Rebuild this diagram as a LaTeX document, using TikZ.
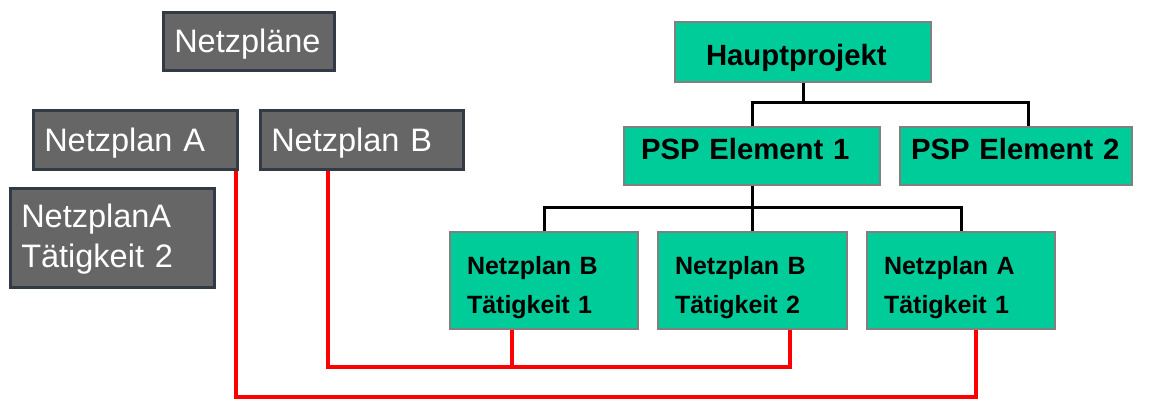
\documentclass[tikz,border=0pt]{standalone}
\usepackage{fontspec}
\setmainfont{Liberation Sans}
\usetikzlibrary{calc}
\definecolor{grayfill}{HTML}{666666}
\definecolor{grayborder}{HTML}{323A46}
\definecolor{greenfill}{HTML}{00CC99}
\definecolor{greenborder}{HTML}{808080}
\definecolor{linkred}{HTML}{FF0000}
\begin{document}
\begin{tikzpicture}[x=1pt,y=-1pt,
  graybox/.style={draw=grayborder, line width=2.5pt, fill=grayfill, text=white,
    font=\fontsize{32.5}{40}\selectfont, anchor=north west, inner ysep=0pt,
    inner xsep=11pt, align=left, text height=23.3pt, text depth=0pt},
  greenbox/.style={draw=greenborder, line width=2pt, fill=greenfill, text=black,
    anchor=north west, inner ysep=0pt, inner xsep=17pt, align=left},
  bigbold/.style={font=\bfseries\fontsize{29.3}{36}\selectfont},
  smallbold/.style={font=\bfseries\fontsize{25}{39}\selectfont, text height=27.9pt, text depth=39pt},
  tree/.style={draw=black, line width=3pt},
  redlink/.style={draw=linkred, line width=4pt}]
\useasboundingbox (0,0) rectangle (1153,399);

% left: network plans
\node[graybox, minimum width=171pt, text width=149pt, minimum height=58pt] (netzplaene) at (162,11) {Netzpläne};
\node[graybox, minimum width=204pt, text width=182pt, minimum height=59pt] (npa) at (32,109) {Netzplan A};
\node[graybox, minimum width=203pt, text width=181pt, minimum height=59pt] (npb) at (259,109) {Netzplan B};
\node[graybox, minimum width=204pt, text width=182pt, minimum height=99pt, text depth=43pt] (npa2) at (9,187) {NetzplanA\\Tätigkeit 2};

% right: work breakdown structure
\node[greenbox, bigbold, minimum width=256pt, text width=194pt, inner xsep=31pt, minimum height=60pt,
  text height=26pt, text depth=0pt] (haupt) at (674,21) {Hauptprojekt};
\node[greenbox, bigbold, minimum width=256pt, text width=222pt, minimum height=58pt,
  text height=21pt, text depth=14pt] (psp1) at (623,126) {PSP Element 1};
\node[greenbox, bigbold, minimum width=232pt, text width=210pt, inner xsep=11pt, minimum height=58pt,
  text height=21pt, text depth=14pt] (psp2) at (899,126) {PSP Element 2};
\node[greenbox, smallbold, minimum width=188pt, text width=154pt, minimum height=97pt] (nb1) at (449,231) {Netzplan B\\Tätigkeit 1};
\node[greenbox, smallbold, minimum width=189pt, text width=155pt, minimum height=97pt] (nb2) at (657,231) {Netzplan B\\Tätigkeit 2};
\node[greenbox, smallbold, minimum width=188pt, text width=154pt, minimum height=97pt] (na1) at (866,231) {Netzplan A\\Tätigkeit 1};

% tree connectors
\coordinate (bus1) at (0,102);
\coordinate (bus2) at (0,207);
\coordinate (p2top) at ([xshift=12pt]psp2.north);
\draw[tree] (haupt.south) -- (haupt.south |- bus1);
\draw[tree] (psp1.north) |- (p2top |- bus1) -- (p2top);
\draw[tree] (psp1.south) -- (psp1.south |- nb2.north);
\draw[tree] (nb1.north) |- (na1.north |- bus2) -- (na1.north);

% red links
\coordinate (rlow) at (0,397);
\coordinate (rmid) at (0,367);
\coordinate (ra) at ([xshift=-3pt]npa.south east);
\coordinate (ra1) at ([xshift=15pt]na1.south);
\coordinate (rb) at ([xshift=-33.5pt]npb.south);
\coordinate (rb1) at ([xshift=-32pt]nb1.south);
\coordinate (rb2) at ([xshift=37.5pt]nb2.south);
\draw[redlink] (ra) |- (ra1 |- rlow) -- (ra1);
\draw[redlink] (rb) |- (rb2 |- rmid) -- (rb2);
\draw[redlink] (rb1) -- (rb1 |- rmid);
\end{tikzpicture}
\end{document}
